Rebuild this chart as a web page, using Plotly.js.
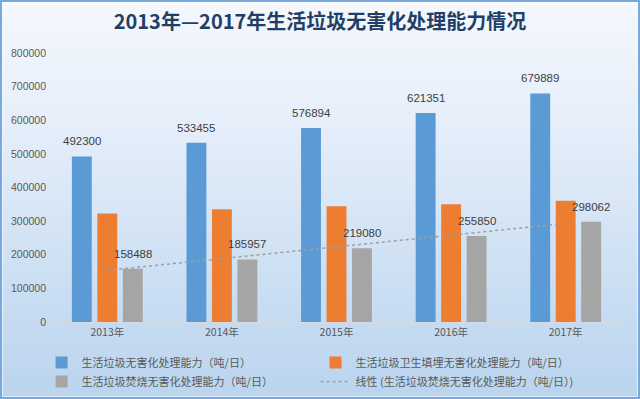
<!DOCTYPE html>
<html>
<head>
<meta charset="utf-8">
<script src="https://cdn.plot.ly/plotly-3.0.1.min.js"></script>
<style>
  html, body { margin: 0; padding: 0; }
  #wrap { position: relative; width: 640px; height: 399px;
    background: linear-gradient(to bottom, #f5f8fd 0%, #e3edf9 35%, #c9ddf2 75%, #bad4ee 100%); }
  #chart { position: absolute; left: 0; top: 0; width: 640px; height: 399px; }
  #frame { position: absolute; left: 0; top: 0; width: 640px; height: 399px; box-sizing: border-box;
    border: 2px solid #79a8dc; box-shadow: inset 0 0 0 1px rgba(255,255,255,0.6); pointer-events: none; }
</style>
</head>
<body>
<div id="wrap"><div id="chart"></div><div id="frame"></div></div>
<script>
const years = ['2013年', '2014年', '2015年', '2016年', '2017年'];
const totalCap = [492300, 533455, 576894, 621351, 679889];
const landfillCap = [322782, 335316, 344135, 350103, 360524];
const incinerationCap = [158488, 185957, 219080, 255850, 298062];
const seriesNames = [
  '生活垃圾无害化处理能力（吨/日）',
  '生活垃圾卫生填埋无害化处理能力（吨/日）',
  '生活垃圾焚烧无害化处理能力（吨/日）',
  '线性 (生活垃圾焚烧无害化处理能力（吨/日）)'
];
const yTicks = [0, 100000, 200000, 300000, 400000, 500000, 600000, 700000, 800000];

// Linear trendline (least squares over category index), as the spreadsheet computes it
function linearFit(vals) {
  const n = vals.length;
  const xs = vals.map((_, i) => i + 1);
  const mx = xs.reduce((a, b) => a + b, 0) / n;
  const my = vals.reduce((a, b) => a + b, 0) / n;
  let sxy = 0, sxx = 0;
  for (let i = 0; i < n; i++) { sxy += (xs[i] - mx) * (vals[i] - my); sxx += (xs[i] - mx) ** 2; }
  const b = sxy / sxx, a = my - b * mx;
  return xs.map(x => a + b * x);
}
const trend = linearFit(incinerationCap);

const CJK = 'Noto Sans CJK SC, Liberation Sans, sans-serif';
const bargap = 0.333;
const nBars = 3;

const traces = [
  { type: 'bar', x: years, y: totalCap, name: seriesNames[0], marker: { color: '#5b9bd5' }, legend: 'legend', hoverinfo: 'y' },
  { type: 'bar', x: years, y: landfillCap, name: seriesNames[1], marker: { color: '#ed7d31' }, legend: 'legend2', hoverinfo: 'y' },
  { type: 'bar', x: years, y: incinerationCap, name: seriesNames[2], marker: { color: '#a5a5a5' }, legend: 'legend', hoverinfo: 'y' },
  { type: 'scatter', mode: 'lines', x: years, y: trend, name: seriesNames[3],
    line: { color: '#9e9e9e', width: 1.5, dash: 'dot' }, legend: 'legend2', hoverinfo: 'skip' }
];

// value labels above blue and gray bars
const annotations = [];
function labelSeries(vals, idx) {
  const slot = (1 - bargap) / nBars;
  vals.forEach((v, i) => {
    annotations.push({
      xref: 'x', yref: 'y', x: i + (idx - (nBars - 1) / 2) * slot, y: v,
      text: String(v), showarrow: false, yanchor: 'bottom', yshift: 7,
      font: { family: 'Liberation Sans, sans-serif', size: 11.5, color: '#404040' }
    });
  });
}
labelSeries(totalCap, 0);
labelSeries(incinerationCap, 2);

const legendFont = { family: CJK, size: 11, color: '#595959' };

const layout = {
  width: 640, height: 399,
  paper_bgcolor: 'rgba(0,0,0,0)', plot_bgcolor: 'rgba(0,0,0,0)',
  margin: { l: 50, r: 17, t: 53, b: 77, autoexpand: false },
  title: { text: '<b>2013年—2017年生活垃圾无害化处理能力情况</b>', x: 0.5, xanchor: 'center', y: 0.945, yanchor: 'middle',
    font: { family: CJK, size: 20, color: '#1f3f66' } },
  barmode: 'group', bargap: bargap, bargroupgap: 0.22,
  xaxis: { type: 'category', showgrid: false, zeroline: false, showline: true, linecolor: '#d4dbe3', linewidth: 1,
    ticks: '', tickfont: { family: CJK, size: 10.5, color: '#595959' }, fixedrange: true },
  yaxis: { range: [0, 800000], tickvals: yTicks, ticktext: yTicks.map(String), showgrid: false, zeroline: false,
    showline: false, ticks: '', ticklabelstandoff: 3,
    tickfont: { family: 'Liberation Sans, sans-serif', size: 10.5, color: '#595959' }, fixedrange: true },
  showlegend: true,
  legend: { xref: 'container', yref: 'container', x: 0.065, xanchor: 'left', y: 0.128, yanchor: 'top',
    orientation: 'v', bgcolor: 'rgba(0,0,0,0)', font: legendFont, tracegroupgap: 0, traceorder: 'normal' },
  legend2: { xref: 'container', yref: 'container', x: 0.493, xanchor: 'left', y: 0.128, yanchor: 'top',
    orientation: 'v', bgcolor: 'rgba(0,0,0,0)', font: legendFont, tracegroupgap: 0, traceorder: 'normal' },
  annotations: annotations
};

Plotly.newPlot('chart', traces, layout, { displayModeBar: false, staticPlot: true });
</script>
</body>
</html>
